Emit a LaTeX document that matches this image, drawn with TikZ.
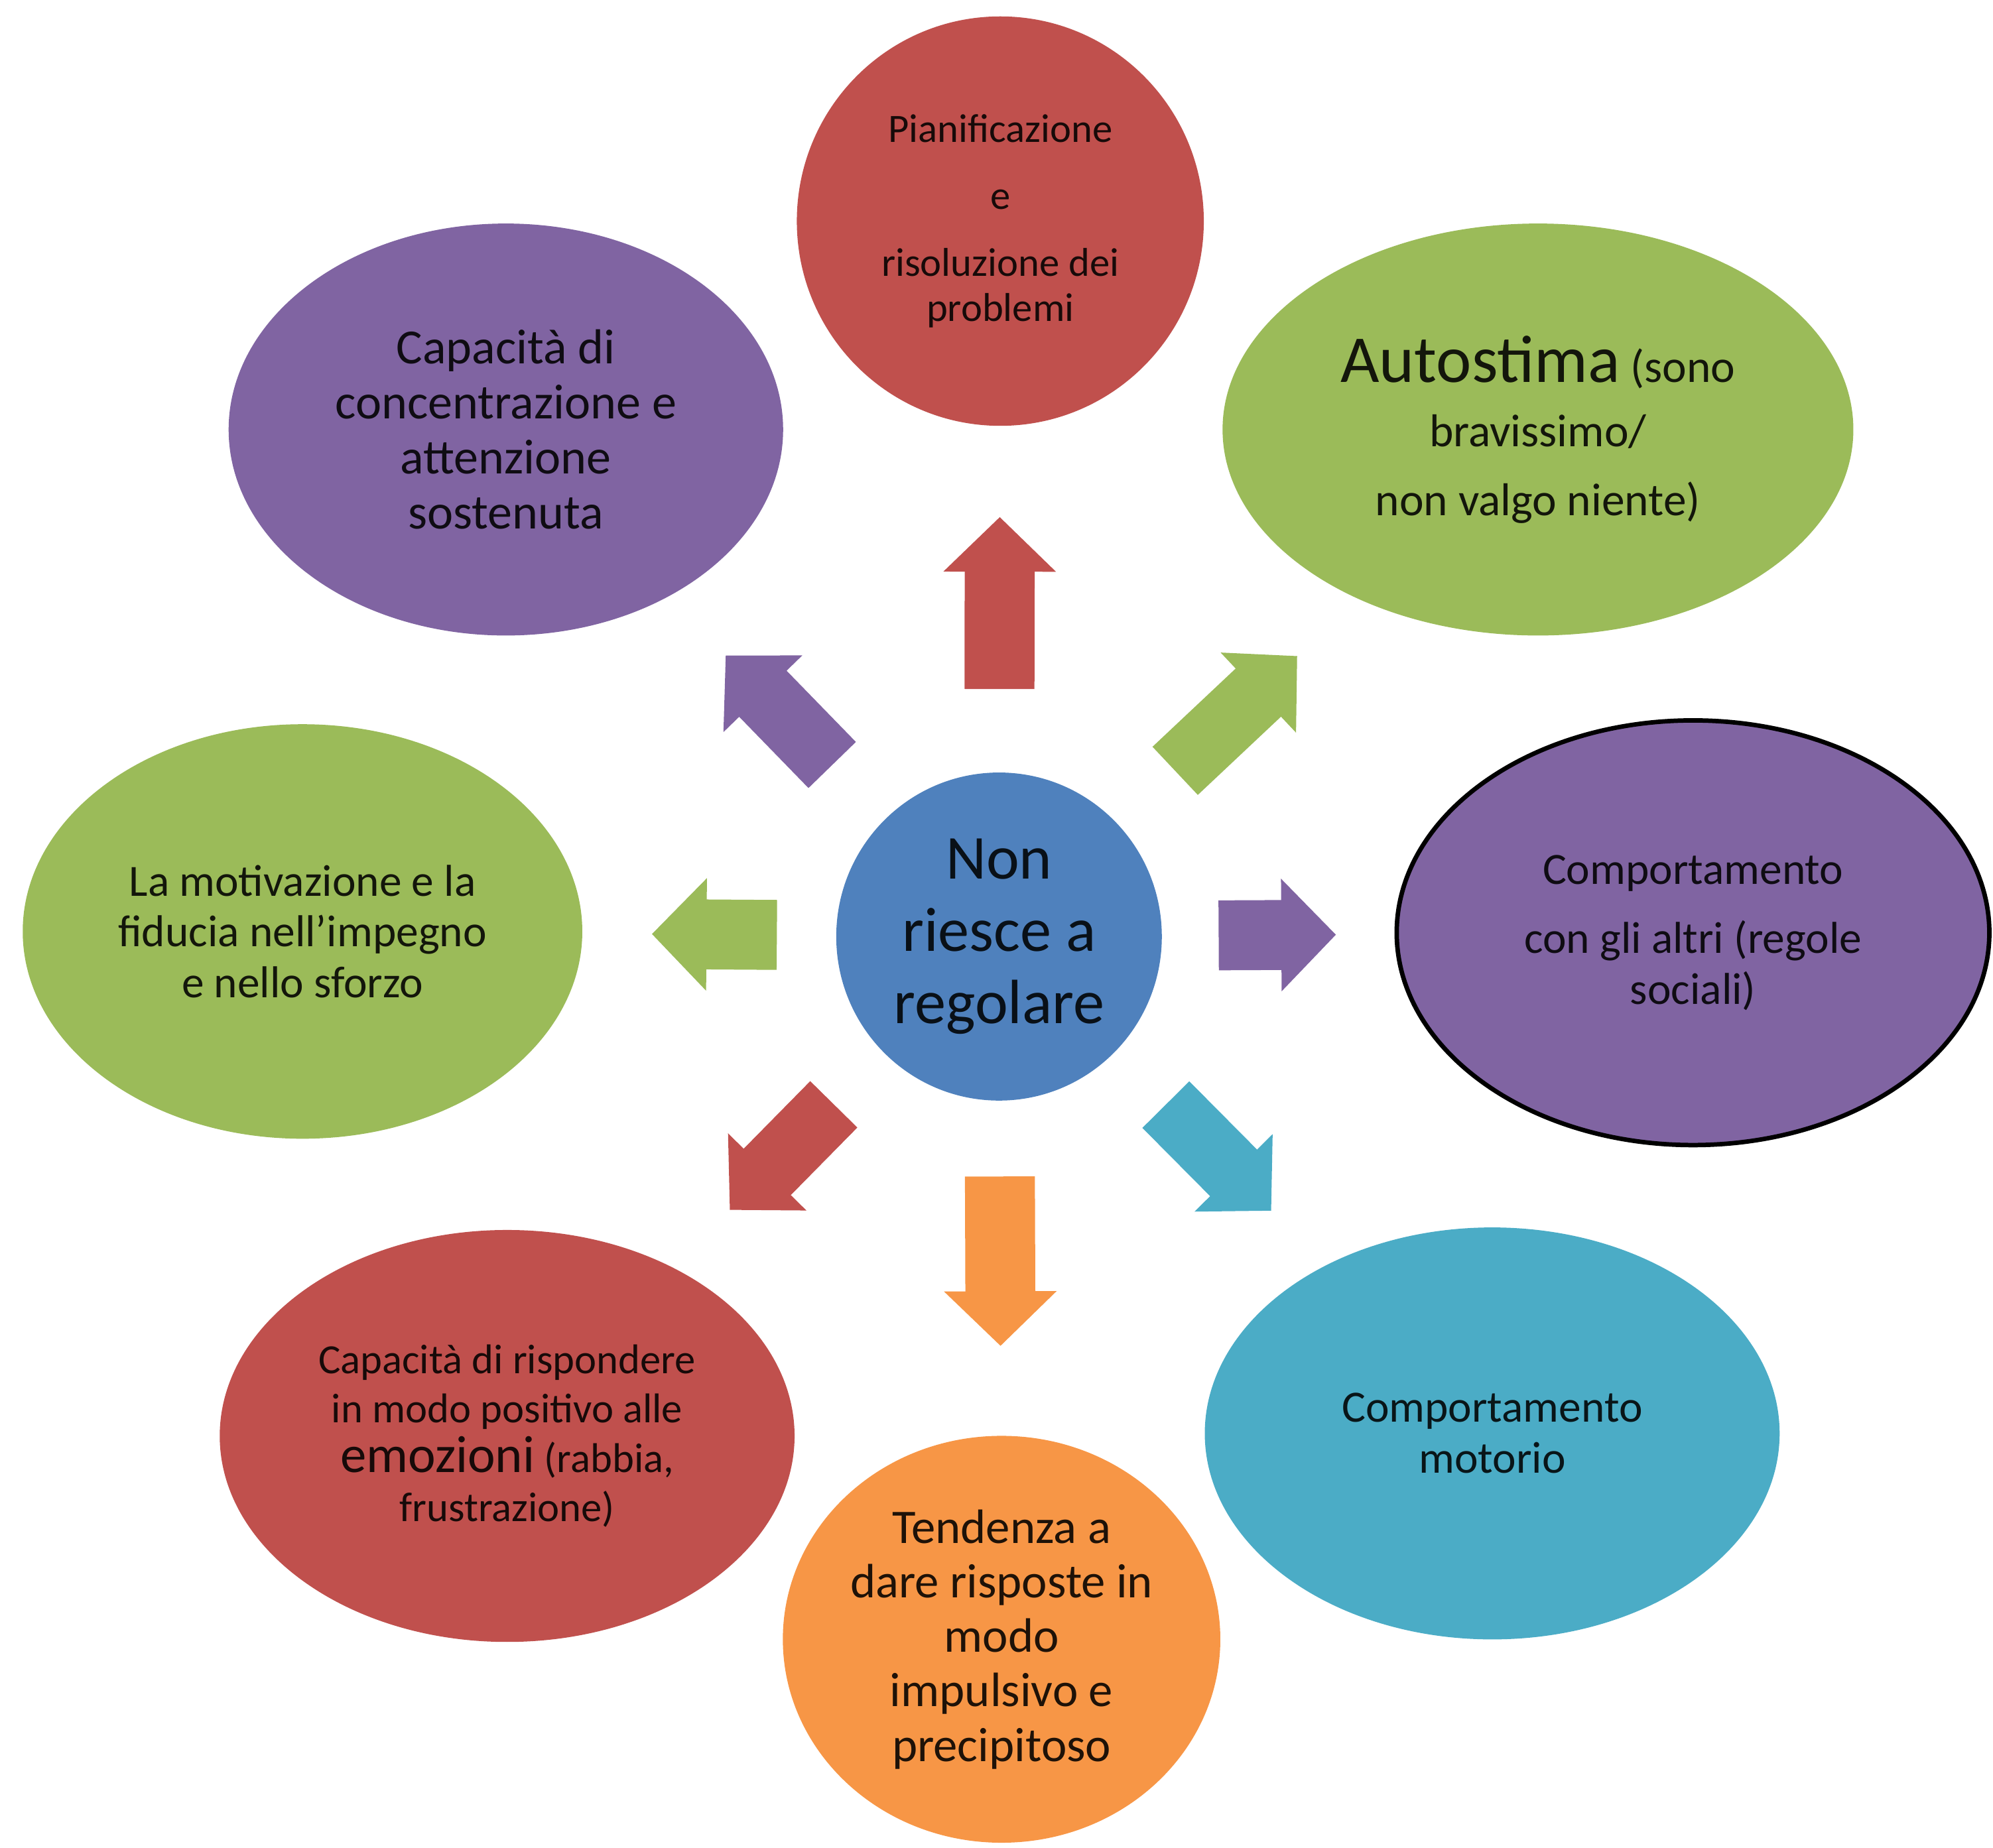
\documentclass[tikz,border=0pt]{standalone}
\usepackage{fontspec}
\setmainfont{Carlito}
\usetikzlibrary{shapes.geometric,arrows.meta}
\definecolor{ored}{HTML}{C0504D}
\definecolor{opurple}{HTML}{8064A2}
\definecolor{ogreen}{HTML}{9BBB59}
\definecolor{oblue}{HTML}{4F81BD}
\definecolor{ocyan}{HTML}{4BACC6}
\definecolor{oorange}{HTML}{F79646}
\newcommand{\fs}[2]{\fontsize{#1}{#2}\selectfont}

\begin{document}
\begin{tikzpicture}[x=0.01cm,y=-0.01cm,
        blob/.style={ellipse,inner sep=0pt,align=center,fill=#1,text=#1!12!black},
        fat/.style={line width=5.5mm,-{Triangle[width=8.6mm,length=4.3mm]}},
        thin/.style={line width=5.2mm,-{Triangle[width=8.4mm,length=4.2mm]}}]
        \useasboundingbox (0,0) rectangle (1568,1454);

        \node[blob=oblue,minimum width=2.56cm,minimum height=2.58cm,font=\fs{14}{16.2}] (centre) at (786,737) {Non\\ riesce a\\ regolare};

        \node[blob=ored,minimum width=3.2cm,minimum height=3.22cm,font=\fs{9}{10}] (plan) at (787,174)
            {Pianificazione\\[5pt] e\\[5pt] risoluzione dei\\ problemi};
        \node[blob=opurple,minimum width=4.36cm,minimum height=3.24cm,font=\fs{11}{12.3}] (attn) at (398,338)
            {Capacità di\\ concentrazione e\\ attenzione\\ sostenuta};
        \node[blob=ogreen,minimum width=4.96cm,minimum height=3.24cm,font=\fs{10.3}{14.4}] (self) at (1210,338)
            {{\fs{15}{14.4}Autostima} (sono\\ bravissimo/\\[1pt] non valgo niente)};
        \node[blob=ogreen,minimum width=4.4cm,minimum height=3.26cm,font=\fs{10}{11.4}] (motiv) at (238,733)
            {La motivazione e la\\ fiducia nell’impegno\\ e nello sforzo};
        \node[blob=opurple,draw=black,line width=1pt,minimum width=4.66cm,minimum height=3.34cm,font=\fs{10}{11.4}] (social) at (1332,734)
            {Comportamento\\[4pt] con gli altri (regole\\ sociali)};
        \node[blob=ored,minimum width=4.52cm,minimum height=3.24cm,font=\fs{9.3}{11}] (emot) at (399,1130)
            {Capacità di rispondere\\ in modo positivo alle\\ {\fs{11.7}{11}emozioni} (rabbia,\\ frustrazione)};
        \node[blob=ocyan,minimum width=4.52cm,minimum height=3.24cm,font=\fs{10}{11.4}] (motor) at (1174,1128)
            {Comportamento\\ motorio};
        \node[blob=oorange,minimum width=3.44cm,minimum height=3.2cm,font=\fs{10.8}{12.2}] (impulse) at (788,1290)
            {Tendenza a\\ dare risposte in\\ modo\\ impulsivo e\\ precipitoso};

        \draw[fat,ored,shorten <=0.65cm,shorten >=0.71cm] (centre) -- (plan);
        \draw[fat,oorange,shorten <=0.59cm,shorten >=0.7cm] (centre) -- (impulse);
        \draw[fat,ogreen,shorten <=0.46cm,shorten >=0.54cm] (centre) -- (motiv);
        \draw[fat,opurple,shorten <=0.44cm,shorten >=0.46cm] (centre) -- (social);
        \draw[thin,opurple,shorten <=0.59cm,shorten >=0.64cm] (centre) -- (attn);
        \draw[thin,ogreen,shorten <=0.61cm,shorten >=0.65cm] (centre) -- (self);
        \draw[thin,ored,shorten <=0.56cm,shorten >=0.63cm] (centre) -- (emot);
        \draw[thin,ocyan,shorten <=0.57cm,shorten >=0.6cm] (centre) -- (motor);
\end{tikzpicture}
\end{document}
